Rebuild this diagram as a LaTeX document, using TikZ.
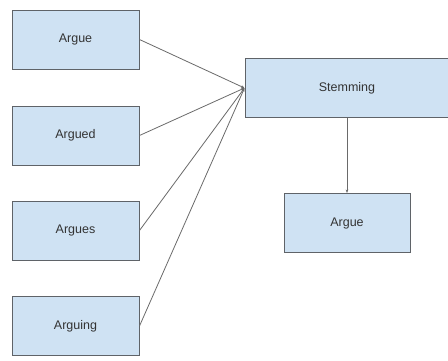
\documentclass[tikz,border=0pt]{standalone}
\usepackage{fontspec}
\setmainfont{Liberation Sans}
\usetikzlibrary{arrows.meta}
\definecolor{boxfill}{HTML}{CFE2F3}
\definecolor{boxline}{HTML}{5F6368}
\definecolor{lineclr}{HTML}{6A6A6A}
\begin{document}
\begin{tikzpicture}[x=1pt,y=-1pt,
  wordbox/.style={draw=boxline, line width=1pt, fill=boxfill, minimum width=127pt, minimum height=59pt, inner sep=0pt, font=\fontsize{12.5}{14}\selectfont, text=black!80},
  link/.style={draw=lineclr, line width=0.8pt},
  tip/.style={-{Stealth[length=3.5pt,width=2.6pt]}}]
\useasboundingbox (0,0) rectangle (448,360);
\fill[white] (0,0) rectangle (448,360);
\node[wordbox] (a1) at (75.5,39.5) {Argue};
\node[wordbox] (a2) at (75.5,135.5) {Argued};
\node[wordbox] (a3) at (75.5,230.5) {Argues};
\node[wordbox] (a4) at (75.5,326) {Arguing};
\node[wordbox, minimum width=220pt] (st) at (355,88) {};
\node[font=\fontsize{12.5}{14}\selectfont, text=black!80] (stl) at (347,88) {Stemming};
\node[wordbox, minimum width=126pt] (out) at (347,223) {Argue};
\coordinate (join) at (st.west);
\foreach \n in {a1,a2,a3,a4}{\draw[link,tip] (\n.east) -- (join);}
\draw[link,tip] (out.north |- st.south) -- (out.north);
\end{tikzpicture}
\end{document}
